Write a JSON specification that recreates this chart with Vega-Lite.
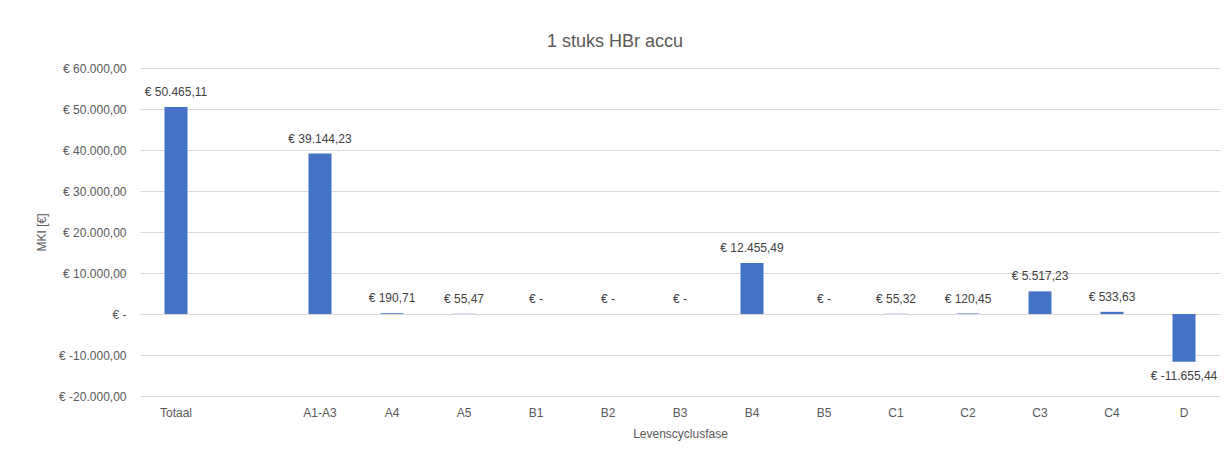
{
  "$schema": "https://vega.github.io/schema/vega-lite/v6.json",
  "autosize": {"type": "none"},
  "padding": {"left": 140, "top": 68, "right": 9, "bottom": 61},
  "width": 1080,
  "height": 328,
  "background": "white",
  "config": {
    "locale": {"number": {"decimal": ",", "thousands": ".", "grouping": [3], "currency": ["€ ", ""], "minus": "-"}},
    "view": {"stroke": null},
    "font": "Liberation Sans"
  },
  "title": {
    "text": "1 stuks HBr accu",
    "fontSize": 18,
    "fontWeight": "normal",
    "color": "#595959",
    "anchor": "middle",
    "frame": "group",
    "dx": -65,
    "offset": 11,
    "font": "Liberation Sans"
  },
  "data": {
    "values": [
      {"fase": "Totaal", "value": 50465.11},
      {"fase": "A1-A3", "value": 39144.23},
      {"fase": "A4", "value": 190.71},
      {"fase": "A5", "value": 55.47},
      {"fase": "B1", "value": 0},
      {"fase": "B2", "value": 0},
      {"fase": "B3", "value": 0},
      {"fase": "B4", "value": 12455.49},
      {"fase": "B5", "value": 0},
      {"fase": "C1", "value": 55.32},
      {"fase": "C2", "value": 120.45},
      {"fase": "C3", "value": 5517.23},
      {"fase": "C4", "value": 533.63},
      {"fase": "D", "value": -11655.44}
    ]
  },
  "transform": [
    {"calculate": "datum.value == 0 ? '€ -' : '€ ' + format(datum.value, ',.2f')", "as": "label"}
  ],
  "encoding": {
    "x": {
      "field": "fase",
      "type": "nominal",
      "scale": {"domain": ["Totaal", " ", "A1-A3", "A4", "A5", "B1", "B2", "B3", "B4", "B5", "C1", "C2", "C3", "C4", "D"], "paddingInner": 0, "paddingOuter": 0},
      "axis": {
        "title": "Levenscyclusfase",
        "labelAngle": 0,
        "domain": false,
        "ticks": false,
        "labelPadding": 11,
        "titlePadding": 10,
        "labelFontSize": 12,
        "titleFontSize": 12,
        "titleFontWeight": "normal",
        "labelColor": "#595959",
        "titleColor": "#595959"
      }
    },
    "y": {
      "field": "value",
      "type": "quantitative",
      "scale": {"domain": [-20000, 60000], "nice": false, "zero": false},
      "axis": {
        "title": "MKI [€]",
        "values": [-20000, -10000, 0, 10000, 20000, 30000, 40000, 50000, 60000],
        "labelExpr": "datum.value == 0 ? '€ -' : '€ ' + format(datum.value, ',.2f')",
        "domain": false,
        "ticks": false,
        "grid": true,
        "gridColor": "#D9D9D9",
        "gridWidth": 1,
        "labelPadding": 14,
        "titlePadding": 10,
        "labelFontSize": 12,
        "titleFontSize": 12,
        "titleFontWeight": "normal",
        "labelColor": "#595959",
        "titleColor": "#595959"
      }
    }
  },
  "layer": [
    {"mark": {"type": "bar", "color": "#4472C4", "size": 23}},
    {
      "transform": [{"filter": "datum.value >= 0"}],
      "mark": {"type": "text", "baseline": "bottom", "dy": -8, "fontSize": 12, "color": "#404040"},
      "encoding": {"text": {"field": "label"}}
    },
    {
      "transform": [{"filter": "datum.value < 0"}],
      "mark": {"type": "text", "baseline": "top", "dy": 9, "fontSize": 12, "color": "#404040"},
      "encoding": {"text": {"field": "label"}}
    }
  ]
}
